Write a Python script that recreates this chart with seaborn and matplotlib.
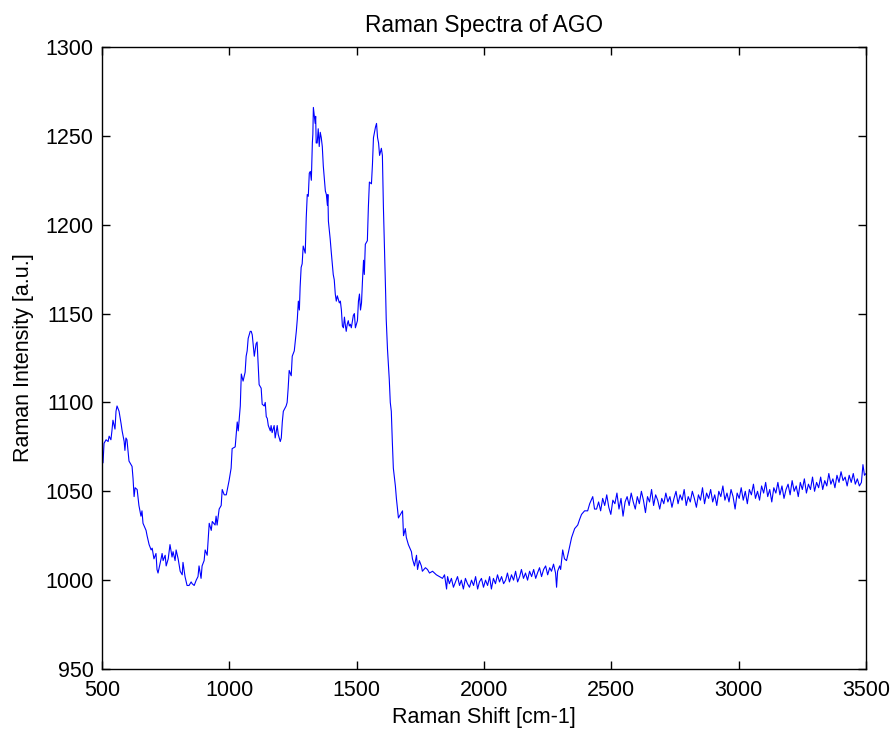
import matplotlib
matplotlib.use("Agg")
import matplotlib.pyplot as plt
import seaborn as sns
import pandas as pd

# Raman shift [cm-1] and intensity [a.u.]
shift = [
    500, 504, 508, 516, 524, 528, 535, 539, 543, 551, 555, 559, 567, 575, 579, 587, 590, 594, 598, 606,
    618, 622, 626, 630, 638, 645, 653, 657, 661, 673, 677, 685, 693, 697, 704, 712, 716, 720, 732, 736,
    740, 748, 752, 760, 767, 775, 779, 787, 791, 799, 807, 815, 818, 826, 834, 842, 850, 854, 862, 870,
    877, 881, 889, 893, 901, 905, 913, 921, 929, 933, 944, 948, 952, 960, 968, 972, 980, 988, 992, 999,
    1007, 1011, 1023, 1031, 1035, 1043, 1047, 1054, 1062, 1066, 1070, 1074, 1082, 1086, 1090, 1098, 1105, 1109, 1113, 1117,
    1125, 1129, 1137, 1141, 1145, 1149, 1153, 1161, 1164, 1168, 1176, 1180, 1188, 1192, 1200, 1204, 1208, 1212, 1223, 1227,
    1231, 1235, 1243, 1247, 1255, 1263, 1267, 1271, 1275, 1278, 1282, 1286, 1290, 1298, 1302, 1306, 1310, 1314, 1318, 1322,
    1326, 1328, 1330, 1337, 1339, 1341, 1345, 1349, 1353, 1357, 1361, 1365, 1369, 1377, 1381, 1385, 1387, 1389, 1396, 1400,
    1408, 1412, 1416, 1420, 1424, 1432, 1436, 1440, 1444, 1448, 1452, 1456, 1459, 1463, 1467, 1471, 1475, 1479, 1487, 1491,
    1495, 1503, 1507, 1511, 1515, 1519, 1523, 1527, 1530, 1534, 1542, 1546, 1550, 1558, 1562, 1566, 1570, 1574, 1578, 1582,
    1586, 1590, 1597, 1601, 1605, 1609, 1614, 1616, 1621, 1628, 1632, 1636, 1640, 1644, 1652, 1656, 1664, 1672, 1680, 1684,
    1691, 1695, 1703, 1715, 1719, 1727, 1735, 1739, 1746, 1754, 1758, 1770, 1778, 1786, 1798, 1813, 1825, 1837, 1845, 1853,
    1857, 1864, 1872, 1880, 1888, 1896, 1904, 1911, 1919, 1927, 1935, 1943, 1951, 1959, 1967, 1975, 1982, 1990, 1998, 2006,
    2014, 2022, 2029, 2037, 2045, 2053, 2061, 2069, 2077, 2085, 2092, 2100, 2108, 2116, 2124, 2132, 2140, 2147, 2155, 2163,
    2171, 2179, 2187, 2195, 2203, 2210, 2218, 2226, 2234, 2242, 2250, 2258, 2265, 2273, 2281, 2285, 2289, 2297, 2301, 2309,
    2316, 2324, 2332, 2344, 2356, 2368, 2375, 2383, 2395, 2407, 2415, 2427, 2434, 2442,
    2450, 2458, 2466, 2474, 2482, 2490, 2498, 2506, 2514, 2522, 2530, 2538, 2546, 2554, 2562, 2570, 2578, 2586, 2594, 2602,
    2610, 2618, 2626, 2634, 2642, 2650, 2658, 2666, 2674, 2682, 2690, 2698, 2706, 2714, 2722, 2730, 2738, 2746, 2754, 2762,
    2770, 2778, 2786, 2794, 2802, 2810, 2818, 2826, 2834, 2842, 2850, 2858, 2866, 2874, 2882, 2890, 2898, 2906, 2914, 2922,
    2930, 2938, 2946, 2954, 2962, 2970, 2978, 2986, 2994, 3002, 3010, 3018, 3026, 3034, 3042, 3050, 3058, 3066, 3074, 3082,
    3090, 3098, 3106, 3114, 3122, 3130, 3138, 3146, 3154, 3162, 3170, 3178, 3186, 3194, 3202, 3210, 3218, 3226, 3234, 3242,
    3250, 3258, 3266, 3274, 3282, 3290, 3298, 3306, 3314, 3322, 3330, 3338, 3346, 3354, 3362, 3370, 3378, 3386, 3394, 3402,
    3410, 3418, 3426, 3434, 3442, 3450, 3458, 3466, 3474, 3482, 3488, 3494, 3500,
]
intensity = [
    1068, 1066, 1077, 1079, 1078, 1081, 1079, 1084, 1090, 1085, 1095, 1098, 1095, 1088, 1084, 1078, 1073, 1080, 1079, 1067,
    1064, 1057, 1047, 1052, 1051, 1042, 1036, 1039, 1032, 1028, 1025, 1020, 1017, 1018, 1012, 1015, 1006, 1004, 1012, 1015,
    1011, 1014, 1008, 1012, 1020, 1013, 1016, 1011, 1017, 1012, 1005, 1003, 1010, 1002, 997, 997, 999, 998, 997, 1000,
    1002, 1008, 1001, 1008, 1011, 1017, 1014, 1032, 1028, 1033, 1031, 1036, 1031, 1040, 1042, 1051, 1048, 1048, 1051, 1056,
    1063, 1074, 1075, 1089, 1084, 1098, 1116, 1112, 1117, 1126, 1129, 1136, 1140, 1140, 1138, 1126, 1133, 1134, 1122, 1110,
    1108, 1099, 1098, 1100, 1092, 1091, 1087, 1084, 1087, 1083, 1087, 1080, 1087, 1082, 1078, 1080, 1089, 1095, 1098, 1100,
    1108, 1118, 1115, 1126, 1129, 1140, 1147, 1157, 1152, 1165, 1176, 1178, 1188, 1184, 1204, 1217, 1216, 1229, 1230, 1225,
    1246, 1251, 1266, 1257, 1261, 1246, 1246, 1254, 1244, 1252, 1249, 1244, 1233, 1219, 1217, 1211, 1217, 1202, 1192, 1185,
    1172, 1169, 1161, 1157, 1160, 1156, 1157, 1152, 1143, 1142, 1148, 1143, 1140, 1144, 1146, 1143, 1144, 1142, 1149, 1150,
    1142, 1146, 1157, 1161, 1152, 1156, 1169, 1180, 1172, 1189, 1191, 1210, 1224, 1223, 1234, 1249, 1252, 1255, 1257, 1249,
    1246, 1239, 1243, 1239, 1210, 1188, 1160, 1147, 1130, 1113, 1100, 1095, 1078, 1063, 1053, 1046, 1035, 1037, 1039, 1025,
    1029, 1024, 1020, 1016, 1012, 1008, 1014, 1006, 1011, 1008, 1005, 1007, 1006, 1004, 1005, 1003, 1002, 1001, 1003, 995,
    1002, 998, 1001, 996, 999, 1002, 997, 1000, 995, 1001, 998, 996, 1000, 997, 1002, 995, 999, 1001, 996, 1000,
    997, 1002, 995, 1001, 998, 1003, 999, 1002, 998, 1000, 1004, 999, 1003, 1000, 1005, 999, 1002, 1006, 1001, 1004,
    1000, 1005, 1002, 1006, 1001, 1004, 1007, 1002, 1006, 1008, 1003, 1007, 1005, 1009, 1004, 996, 1005, 1008, 1006, 1017,
    1012, 1011, 1016, 1024, 1029, 1031, 1034, 1037, 1039, 1039, 1043, 1047, 1040, 1040,
    1044, 1039, 1046, 1042, 1048, 1041, 1037, 1045, 1043, 1049, 1040, 1046, 1036, 1044, 1047, 1042, 1049, 1044, 1040, 1047,
    1043, 1050, 1045, 1038, 1047, 1044, 1051, 1042, 1048, 1045, 1040, 1046, 1043, 1049, 1044, 1047, 1041, 1046, 1050, 1043,
    1048, 1045, 1051, 1042, 1047, 1044, 1050, 1046, 1041, 1048, 1045, 1052, 1043, 1049, 1046, 1051, 1044, 1048, 1042, 1050,
    1047, 1053, 1045, 1049, 1044, 1051, 1047, 1040, 1049, 1046, 1052, 1045, 1050, 1043, 1051, 1048, 1054, 1046, 1050, 1045,
    1053, 1049, 1055, 1047, 1051, 1044, 1052, 1049, 1055, 1048, 1053, 1046, 1051, 1054, 1048, 1056, 1050, 1053, 1047, 1055,
    1051, 1057, 1049, 1054, 1051, 1058, 1050, 1055, 1052, 1058, 1051, 1056, 1053, 1060, 1054, 1057, 1052, 1059, 1055, 1061,
    1056, 1058, 1053, 1059, 1055, 1060, 1054, 1057, 1053, 1055, 1065, 1059, 1060,
]

x_ticks = [500, 1000, 1500, 2000, 2500, 3000, 3500]
y_ticks = [950, 1000, 1050, 1100, 1150, 1200, 1250, 1300]

df = pd.DataFrame({"shift": shift, "intensity": intensity})

sns.set_style("ticks")
plt.rcParams["font.family"] = ["Liberation Sans", "DejaVu Sans"]
plt.rcParams["text.color"] = "black"
plt.rcParams["axes.labelcolor"] = "black"

fig = plt.figure(figsize=(8.94, 7.38), dpi=100)
ax = fig.add_axes([102 / 894, 1 - 669 / 738, 764 / 894, 622 / 738])

sns.lineplot(data=df, x="shift", y="intensity", ax=ax, color=(0, 0, 1),
             linewidth=0.8, estimator=None, sort=False)

ax.set_xlim(500, 3500)
ax.set_ylim(950, 1300)
ax.set_xticks(x_ticks)
ax.set_yticks(y_ticks)
ax.tick_params(direction="in", length=5.5, width=1, top=True, right=True,
               labelsize=15.5, colors="black")
ax.tick_params(axis="x", pad=8)
ax.tick_params(axis="y", pad=6)
for s in ax.spines.values():
    s.set_visible(True)
    s.set_color("black")
    s.set_linewidth(1)

ax.set_title("Raman Spectra of AGO", fontsize=16.3, pad=11, color="black")
ax.set_xlabel("Raman Shift [cm-1]", fontsize=15.5, labelpad=4, color="black")
ax.set_ylabel("Raman Intensity [a.u.]", fontsize=15.5, labelpad=8, color="black")

fig.savefig("out.png", dpi=100, facecolor="white")
